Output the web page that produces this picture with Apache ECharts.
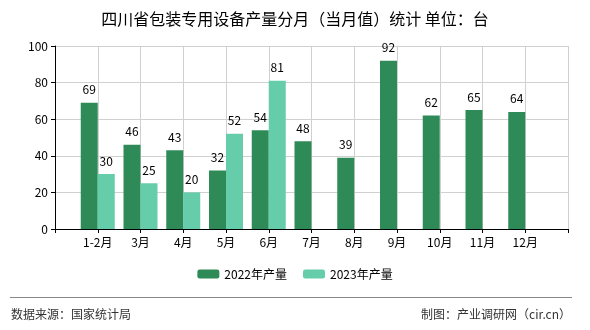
<!DOCTYPE html>
<html><head><meta charset="utf-8">
<script src="https://cdn.jsdelivr.net/npm/echarts@6/dist/echarts.min.js"></script>
<style>html,body{margin:0;padding:0;background:#fff}#c{width:590px;height:330px}</style>
</head><body><div id="c"></div>
<script>
const categories = ['', '1-2月', '3月', '4月', '5月', '6月', '7月', '8月', '9月', '10月', '11月', '12月', ''];
const series2022 = [null, 69, 46, 43, 32, 54, 48, 39, 92, 62, 65, 64, null];
const series2023 = [null, 30, 25, 20, 52, 81, null, null, null, null, null, null, null];
const yTicks = [0, 20, 40, 60, 80, 100];
const titleText = '四川省包装专用设备产量分月（当月值）统计 单位：台';
const sourceText = '数据来源：国家统计局';
const makerText = '制图：产业调研网（cir.cn）';

const font = '"Noto Sans CJK SC", "Noto Sans", sans-serif';
const chart = echarts.init(document.getElementById('c'));
chart.setOption({
  animation: false,
  textStyle: { fontFamily: font },
  title: { text: titleText, left: 'center', top: 6, textStyle: { fontSize: 16, fontWeight: 'normal', color: '#000', fontFamily: font } },
  legend: {
    bottom: 45, left: 'center', itemWidth: 22, itemHeight: 9, itemGap: 16,
    textStyle: { fontSize: 12, color: '#000' },
    data: ['2022年产量', '2023年产量']
  },
  grid: { left: 55, right: 22, top: 46, bottom: 101 },
  xAxis: {
    type: 'category', data: categories, boundaryGap: false,
    axisLine: { lineStyle: { color: '#000' } },
    axisTick: { show: true, lineStyle: { color: '#000' }, length: 4 },
    axisLabel: { color: '#000', fontSize: 12, margin: 7, interval: 0 },
    splitLine: { show: true, lineStyle: { color: '#d0d0d0' } }
  },
  yAxis: {
    type: 'value', min: yTicks[0], max: yTicks[yTicks.length - 1], interval: 20,
    axisLine: { show: true, lineStyle: { color: '#000' } },
    axisTick: { show: true, lineStyle: { color: '#000' }, length: 4 },
    axisLabel: { color: '#000', fontSize: 12, margin: 7 },
    splitLine: { show: true, lineStyle: { color: '#d0d0d0' } }
  },
  series: [
    { name: '2022年产量', type: 'bar', data: series2022, barWidth: 17, barGap: '0%',
      itemStyle: { color: '#2e8b57' },
      label: { show: true, position: 'top', distance: 7, color: '#000', fontSize: 12 } },
    { name: '2023年产量', type: 'bar', data: series2023, barWidth: 17, barGap: '0%',
      itemStyle: { color: '#66cdaa' },
      label: { show: true, position: 'top', distance: 7, color: '#000', fontSize: 12 } }
  ],
  graphic: [
    { type: 'line', shape: { x1: 10, y1: 297.5, x2: 572, y2: 297.5 }, style: { stroke: '#888', lineWidth: 1 } },
    { type: 'text', left: 11, top: 308, style: { text: sourceText, fontSize: 12, fill: '#333', fontFamily: font } },
    { type: 'text', right: 19, top: 308, style: { text: makerText, fontSize: 12, fill: '#333', fontFamily: font } }
  ]
});
</script></body></html>
